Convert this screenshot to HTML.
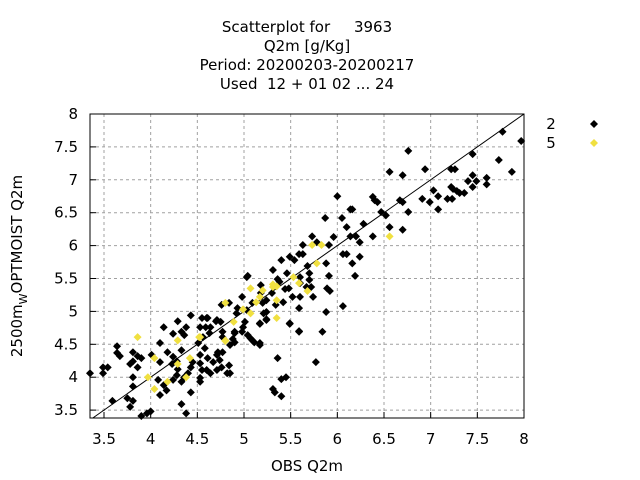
<!DOCTYPE html>
<html><head><meta charset="utf-8"><style>
html,body{margin:0;padding:0;background:#fff;}
svg{display:block;font-family:"DejaVu Sans","Liberation Sans",sans-serif;}
</style></head><body>
<svg id="chart" width="640" height="480">
<g id="grid"></g>
<g id="axes"></g>
<g id="marks"></g>
<g font-size="15" text-anchor="middle" fill="#000">
<text x="307" y="32" xml:space="preserve">Scatterplot for     3963</text>
<text x="307" y="51">Q2m [g/Kg]</text>
<text x="307" y="70">Period: 20200203-20200217</text>
<text x="307" y="89" xml:space="preserve">Used  12 + 01 02 ... 24</text>
</g>
<text x="307" y="471" font-size="15" text-anchor="middle">OBS Q2m</text>
<text transform="translate(22,266) rotate(-90)" font-size="15" text-anchor="middle">2500m<tspan font-size="11" dy="5">W</tspan><tspan dy="-5">OPTMOIST Q2m</tspan></text>
<g id="legend"></g>
</svg>
<script>
const xTicks=[3.5,4,4.5,5,5.5,6,6.5,7,7.5,8];
const yTicks=[3.5,4,4.5,5,5.5,6,6.5,7,7.5,8];
const xTickLabels=["3.5","4","4.5","5","5.5","6","6.5","7","7.5","8"];
const yTickLabels=["3.5","4","4.5","5","5.5","6","6.5","7","7.5","8"];
const seriesNames=["2","5"];
const s2x=[7.77,7.97,6.76,7.45,7.73,6.56,6.70,6.94,7.87,7.22,7.26,7.45,7.40,7.49,7.60,7.60,7.45,6.00,6.38,6.40,6.43,6.67,6.70,6.91,6.99,7.03,7.08,7.22,7.24,7.28,7.31,7.36,7.18,7.23,7.08,6.76,6.47,6.52,6.14,5.87,6.05,6.10,6.28,6.14,6.20,6.38,6.56,6.70,6.24,5.96,5.91,6.06,6.10,6.24,
6.16,5.73,5.78,5.63,5.59,5.63,5.40,5.49,5.54,5.88,6.16,5.68,5.31,5.46,5.04,5.36,5.60,5.70,5.91,6.19,5.18,5.38,5.48,5.60,5.70,5.67,5.72,5.89,5.92,5.44,5.52,5.60,5.74,4.98,5.18,5.24,5.30,5.09,5.20,5.34,5.42,5.59,6.06,5.88,5.03,4.93,4.92,4.84,5.21,5.17,5.24,5.49,5.59,5.84,4.99,4.90,4.60,4.70,4.75,4.77,4.77,4.88,5.04,5.09,5.17,4.59,4.53,4.63,4.56,
3.35,3.49,3.54,3.49,3.64,3.64,3.67,3.81,3.86,3.90,3.81,3.78,3.86,3.81,3.81,3.59,3.75,3.81,3.78,3.90,3.96,4.00,4.01,4.10,4.10,4.14,4.24,4.29,4.33,4.38,4.36,4.43,4.18,4.24,4.33,4.28,4.23,4.29,4.45,4.43,4.40,4.36,4.33,4.14,4.08,4.10,4.24,4.17,4.33,4.38,4.43,4.28,4.51,4.53,4.53,4.53,4.53,4.58,4.61,4.71,4.74,4.76,4.71,4.72,4.77,4.85,4.84,4.82,4.85,4.64,4.60,4.67,4.55,4.55,4.61,4.64,4.71,4.76,4.90,4.90,4.98,5.01,5.07,5.11,5.17,5.24,5.17,5.03,5.24,5.36,5.40,5.45,5.31,5.33,5.40,5.49,5.59,5.77];
const s2y=[7.73,7.59,7.44,7.39,7.30,7.12,7.07,7.16,7.12,7.16,7.16,7.07,6.98,6.98,7.03,6.93,6.89,6.75,6.74,6.69,6.66,6.69,6.66,6.71,6.66,6.84,6.75,6.89,6.86,6.83,6.80,6.80,6.71,6.71,6.55,6.51,6.51,6.46,6.55,6.42,6.42,6.28,6.33,6.14,6.14,6.14,6.28,6.24,6.05,6.13,6.01,5.87,5.87,5.83,
6.55,6.14,6.05,6.01,5.87,5.87,5.78,5.83,5.78,5.73,5.73,5.69,5.63,5.58,5.54,5.49,5.52,5.58,5.54,5.54,5.40,5.45,5.35,5.43,5.48,5.37,5.37,5.35,5.31,5.34,5.22,5.22,5.22,5.22,5.28,5.17,5.28,5.13,5.13,5.10,5.14,5.05,5.08,4.99,5.02,5.05,4.97,5.13,4.97,4.81,4.87,4.81,4.69,4.69,4.76,4.69,4.90,4.85,4.84,4.69,4.61,4.58,4.64,4.56,4.52,4.76,4.76,4.67,4.61,
4.06,4.15,4.15,4.06,4.47,4.37,4.32,4.38,4.32,4.29,4.24,4.20,4.15,4.00,3.86,3.64,3.68,3.64,3.55,3.41,3.45,3.48,4.34,4.23,4.52,4.76,4.66,4.85,4.69,4.76,4.64,4.94,4.38,4.31,4.41,4.24,4.20,4.12,4.23,4.15,4.06,4.00,3.93,3.88,3.96,3.73,3.96,3.80,3.59,3.45,3.77,4.03,4.52,4.34,4.21,3.99,3.93,4.44,4.29,4.34,4.26,4.15,4.11,4.38,4.38,4.49,4.18,4.06,4.06,4.06,4.11,4.23,4.11,4.90,4.90,4.76,4.87,5.10,4.53,4.67,4.69,4.84,4.59,4.53,4.49,4.88,4.82,5.52,4.99,4.29,3.97,4.00,3.82,3.77,3.71,4.82,4.70,4.23];
const s5x=[6.56,5.83,5.73,5.78,5.53,5.59,5.07,5.20,5.31,5.35,5.31,5.17,5.13,5.35,5.68,4.99,5.07,5.35,4.80,4.89,4.80,4.53,3.86,4.04,3.97,4.04,4.18,4.29,4.38,4.42,4.52,4.29,4.80];
const s5y=[6.14,6.01,6.01,5.73,5.52,5.43,5.35,5.32,5.41,5.38,5.37,5.22,5.14,5.17,5.31,5.03,4.97,4.90,5.13,4.84,4.55,4.61,4.61,4.29,4.00,3.82,3.93,4.20,4.00,4.29,4.61,4.56,4.56];

const NS="http://www.w3.org/2000/svg";
const X0=90,X1=524,Y0=114,Y1=418,xmin=3.35,xmax=8,ymin=3.38,ymax=8;
function sx(v){return X0+(v-xmin)/(xmax-xmin)*(X1-X0);}
function sy(v){return Y1-(v-ymin)/(ymax-ymin)*(Y1-Y0);}
function mk(tag,attrs,parent){const e=document.createElementNS(NS,tag);for(const k in attrs)e.setAttribute(k,attrs[k]);parent.appendChild(e);return e;}
const grid=document.getElementById('grid'),axes=document.getElementById('axes'),marks=document.getElementById('marks'),legend=document.getElementById('legend');
xTicks.forEach((t,i)=>{
  const x=sx(t);
  if(t<xmax){const g=mk('line',{x1:x,x2:x,y1:Y0,y2:Y1,stroke:'#a0a0a0','stroke-dasharray':'3,3','stroke-width':1},grid);
  
  }
  const tk=mk('line',{x1:x,x2:x,y1:Y1,y2:Y1-6,stroke:'#000'},axes);
  
  
  const tx=mk('text',{x:x,y:Y1+26,'font-size':15,'text-anchor':'middle'},axes);tx.textContent=xTickLabels[i];
  
  
});
yTicks.forEach((t,i)=>{
  const y=sy(t);
  if(t<ymax){const g=mk('line',{x1:X0,x2:X1,y1:y,y2:y,stroke:'#a0a0a0','stroke-dasharray':'3,3','stroke-width':1},grid);
  
  }
  const tk=mk('line',{x1:X0,x2:X0+6,y1:y,y2:y,stroke:'#000'},axes);
  
  
  const tx=mk('text',{x:X0-12,y:y+5,'font-size':15,'text-anchor':'end'},axes);tx.textContent=yTickLabels[i];
  
  
});
const fr=mk('rect',{x:X0,y:Y0,width:X1-X0,height:Y1-Y0,fill:'none',stroke:'#000','stroke-width':1},axes);


const d=mk('line',{x1:sx(ymin),y1:sy(ymin),x2:sx(8),y2:sy(8),stroke:'#000','stroke-width':1},marks);


function diamond(cx,cy,color,parent){const r=4;return mk('polygon',{points:`${cx},${cy-r} ${cx+r},${cy} ${cx},${cy+r} ${cx-r},${cy}`,fill:color},parent);}
s2x.forEach((v,i)=>{const p=diamond(sx(v),sy(s2y[i]),'#000',marks);
  
  });
s5x.forEach((v,i)=>{const p=diamond(sx(v),sy(s5y[i]),'#f0e040',marks);
  
  });
const colors=['#000','#f0e040'];
seriesNames.forEach((n,i)=>{
  const y=124+i*19;
  const t=mk('text',{x:551,y:y+5,'font-size':15,'text-anchor':'middle'},legend);t.textContent=n;
  
  
  const m=diamond(594,y,colors[i],legend);
  
  
});
</script>
</body></html>
